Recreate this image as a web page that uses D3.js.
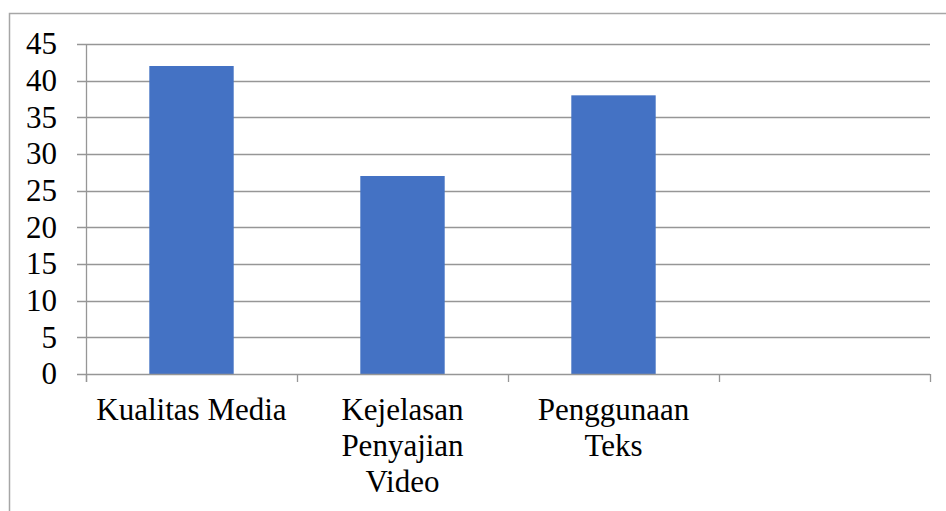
<!DOCTYPE html>
<meta charset="utf-8">
<body>
<script src="https://d3js.org/d3.v7.min.js"></script>
<script>

var categories = ["Kualitas Media", "Kejelasan Penyajian Video", "Penggunaan Teks", ""];
var values = [42, 27, 38, null];
var yTicks = [0, 5, 10, 15, 20, 25, 30, 35, 40, 45];

var width = 946, height = 511;
var plot = {left: 86, right: 930, top: 44, bottom: 374};
var fontFamily = "Liberation Serif";

d3.select("body").style("margin", "0");

var svg = d3.select("body").append("svg")
    .attr("width", width)
    .attr("height", height)
    .style("display", "block");

// outer chart frame (cut off on right and bottom)
svg.append("rect")
    .attr("x", 9.5).attr("y", 13.5)
    .attr("width", 960).attr("height", 520)
    .attr("fill", "none")
    .attr("stroke", "#a6a6a6")
    .attr("stroke-width", 1.5);

var x = d3.scaleBand()
    .domain(categories.map(function(d, i) { return i; }))
    .range([plot.left, plot.right])
    .paddingInner(0).paddingOuter(0);

var y = d3.scaleLinear()
    .domain([0, 45])
    .range([plot.bottom, plot.top]);

// gridlines
svg.append("g").selectAll("line")
    .data(yTicks.filter(function(d) { return d > 0; }))
  .enter().append("line")
    .attr("x1", plot.left - 9).attr("x2", plot.right)
    .attr("y1", function(d) { return Math.round(y(d)) + 0.5; })
    .attr("y2", function(d) { return Math.round(y(d)) + 0.5; })
    .attr("stroke", "#969696")
    .attr("stroke-width", 1.3);

// bars
svg.append("g").selectAll("rect")
    .data(values.map(function(v, i) { return {i: i, v: v}; }).filter(function(d) { return d.v != null; }))
  .enter().append("rect")
    .attr("x", function(d) { return x(d.i) + x.bandwidth() * 0.3; })
    .attr("width", x.bandwidth() * 0.4)
    .attr("y", function(d) { return y(d.v); })
    .attr("height", function(d) { return y(0) - y(d.v); })
    .attr("fill", "#4472c4");

// y axis line and x axis line
svg.append("line")
    .attr("x1", plot.left + 0.5).attr("x2", plot.left + 0.5)
    .attr("y1", plot.top).attr("y2", plot.bottom + 8)
    .attr("stroke", "#969696").attr("stroke-width", 1.3);

svg.append("line")
    .attr("x1", plot.left - 9).attr("x2", plot.right)
    .attr("y1", plot.bottom + 0.5).attr("y2", plot.bottom + 0.5)
    .attr("stroke", "#969696").attr("stroke-width", 1.3);

// category boundary ticks
svg.append("g").selectAll("line")
    .data(categories.map(function(d, i) { return i; }).concat([categories.length]))
  .enter().append("line")
    .attr("x1", function(i) { return Math.round(plot.left + i * x.bandwidth()) + 0.5; })
    .attr("x2", function(i) { return Math.round(plot.left + i * x.bandwidth()) + 0.5; })
    .attr("y1", plot.bottom).attr("y2", plot.bottom + 8)
    .attr("stroke", "#969696").attr("stroke-width", 1.3);

// y tick labels
svg.selectAll("text.ytick")
    .data(yTicks)
  .enter().append("text")
    .attr("class", "ytick")
    .attr("font-family", fontFamily)
    .attr("font-size", 31)
    .style("font-family", fontFamily)
    .attr("x", 57)
    .attr("y", function(d) { return y(d); })
    .attr("dy", "0.33em")
    .attr("text-anchor", "end")
    .text(function(d) { return d; });

// category labels with word wrap
var maxW = 198;
categories.forEach(function(c, i) {
  if (!c) return;
  var cx = x(i) + x.bandwidth() / 2;
  var t = svg.append("text")
      .attr("font-family", fontFamily)
      .attr("font-size", 31)
      .style("font-family", fontFamily)
      .attr("text-anchor", "middle")
      .attr("x", cx)
      .attr("y", 420);
  var words = c.split(" "), line = [];
  var tspan = t.append("tspan").attr("x", cx).attr("dy", 0);
  words.forEach(function(w) {
    line.push(w);
    tspan.text(line.join(" "));
    if (tspan.node().getComputedTextLength() > maxW && line.length > 1) {
      line.pop();
      tspan.text(line.join(" "));
      line = [w];
      tspan = t.append("tspan").attr("x", cx).attr("dy", 36).text(w);
    }
  });
});

</script>
